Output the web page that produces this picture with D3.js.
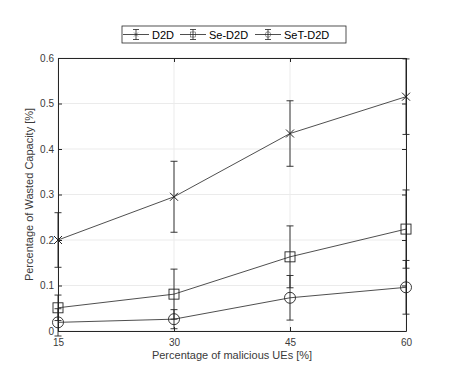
<!DOCTYPE html>
<meta charset="utf-8">
<script src="https://d3js.org/d3.v7.min.js"></script>
<body style="margin:0;background:#fff">
<div id="chart"></div>
</body>
<style>
text { font-family: "Liberation Sans", Arial, sans-serif; }
</style>
<script>
// data
var xValues = [15, 30, 45, 60];
var xTicks = [15, 30, 45, 60];
var yTicks = [0, 0.1, 0.2, 0.3, 0.4, 0.5, 0.6];

var seriesNames = ["D2D", "Se-D2D", "SeT-D2D"];
var d2d = [0.200, 0.295, 0.434, 0.515];
var d2dErr = [0.060, 0.078, 0.072, 0.083];
var seD2d = [0.051, 0.081, 0.163, 0.224];
var seD2dErr = [0.028, 0.055, 0.068, 0.086];
var setD2d = [0.019, 0.026, 0.073, 0.096];
var setD2dErr = [0.030, 0.021, 0.049, 0.059];

var margin = {top: 58, right: 43, bottom: 37, left: 58},
    W = 449, H = 368,
    width = W - margin.left - margin.right,
    height = H - margin.top - margin.bottom;

var svg = d3.select("#chart").append("svg")
    .attr("width", W).attr("height", H);
var g = svg.append("g")
    .attr("transform", "translate(" + margin.left + "," + margin.top + ")");

var x = d3.scaleLinear().domain([15, 60]).range([0, width]);
var y = d3.scaleLinear().domain([0, 0.6]).range([height, 0]);

var axisColor = "#262626";
var textColor = "#3a3a3a";

// grid
g.selectAll(".gx").data(xTicks).enter().append("line")
    .attr("x1", d => x(d)).attr("x2", d => x(d))
    .attr("y1", 0).attr("y2", height)
    .attr("stroke", "#ebebeb");
g.selectAll(".gy").data(yTicks).enter().append("line")
    .attr("x1", 0).attr("x2", width)
    .attr("y1", d => y(d)).attr("y2", d => y(d))
    .attr("stroke", "#ebebeb");

// axes (box with inward ticks on all sides)
function styleAxis(sel) {
  sel.select(".domain").attr("stroke", axisColor);
  sel.selectAll(".tick line").attr("stroke", axisColor);
  sel.selectAll(".tick text").attr("fill", textColor).style("font-size", "10px")
    .style("font-family", "Liberation Sans, Arial, sans-serif");
}
g.append("g").attr("transform", "translate(0," + height + ")")
  .call(d3.axisBottom(x).tickValues(xTicks).tickSizeInner(-4).tickSizeOuter(0).tickPadding(8))
  .call(styleAxis);
g.append("g")
  .call(d3.axisLeft(y).tickValues(yTicks).tickFormat(d3.format("~g")).tickSizeInner(-4).tickSizeOuter(0).tickPadding(4))
  .call(styleAxis);
g.append("g")
  .call(d3.axisTop(x).tickValues(xTicks).tickFormat("").tickSizeInner(-4).tickSizeOuter(0))
  .call(styleAxis);
g.append("g").attr("transform", "translate(" + width + ",0)")
  .call(d3.axisRight(y).tickValues(yTicks).tickFormat("").tickSizeInner(-4).tickSizeOuter(0))
  .call(styleAxis);

var series = [
  {name: seriesNames[0], vals: d2d, err: d2dErr, marker: "x"},
  {name: seriesNames[1], vals: seD2d, err: seD2dErr, marker: "square"},
  {name: seriesNames[2], vals: setD2d, err: setD2dErr, marker: "circle"}
];

var lineCol = "#222";
var cap = 3.5;

function drawMarker(sel, type, cx, cy) {
  if (type === "x") {
    sel.append("path")
      .attr("d", "M" + (cx - 4) + "," + (cy - 4) + "L" + (cx + 4) + "," + (cy + 4) +
                 "M" + (cx - 4) + "," + (cy + 4) + "L" + (cx + 4) + "," + (cy - 4))
      .attr("stroke", lineCol).attr("stroke-width", 1).attr("fill", "none");
  } else if (type === "square") {
    sel.append("rect").attr("x", cx - 5).attr("y", cy - 5)
      .attr("width", 10).attr("height", 10)
      .attr("stroke", lineCol).attr("stroke-width", 0.9).attr("fill", "none");
  } else {
    sel.append("circle").attr("cx", cx).attr("cy", cy).attr("r", 5.5)
      .attr("stroke", lineCol).attr("stroke-width", 0.9).attr("fill", "none");
  }
}

var line = d3.line().x(d => x(d.x)).y(d => y(d.v));

series.forEach(function(s) {
  var pts = xValues.map((xv, i) => ({x: xv, v: s.vals[i], e: s.err[i]}));
  var sg = g.append("g");
  // error bars
  pts.forEach(function(p) {
    var cx = x(p.x), y1 = y(p.v + p.e), y2 = y(p.v - p.e);
    sg.append("line").attr("x1", cx).attr("x2", cx).attr("y1", y1).attr("y2", y2)
      .attr("stroke", lineCol).attr("stroke-width", 0.9);
    [y1, y2].forEach(function(yy) {
      sg.append("line").attr("x1", cx - cap).attr("x2", cx + cap)
        .attr("y1", yy).attr("y2", yy)
        .attr("stroke", lineCol).attr("stroke-width", 0.9);
    });
  });
  sg.append("path").datum(pts).attr("d", line)
    .attr("fill", "none").attr("stroke", lineCol).attr("stroke-width", 0.8);
  pts.forEach(function(p) { drawMarker(sg, s.marker, x(p.x), y(p.v)); });
});

// axis labels
svg.append("text")
  .attr("x", margin.left + width / 2).attr("y", 359)
  .attr("text-anchor", "middle").attr("fill", textColor).style("font-size", "11px")
  .text("Percentage of malicious UEs [%]");
svg.append("text")
  .attr("transform", "translate(33," + (margin.top + height / 2) + ") rotate(-90)")
  .attr("text-anchor", "middle").attr("fill", textColor).style("font-size", "11px")
  .text("Percentage of Wasted Capacity [%]");

// legend
var leg = svg.append("g").attr("transform", "translate(122,26)");
leg.append("rect").attr("width", 224).attr("height", 17)
  .attr("fill", "#fff").attr("stroke", axisColor).attr("stroke-width", 0.8);
var legX = [1, 58, 133];
series.forEach(function(s, i) {
  var lg = leg.append("g").attr("transform", "translate(" + legX[i] + ",8.5)");
  lg.append("line").attr("x1", 0).attr("x2", 26).attr("y1", 0).attr("y2", 0)
    .attr("stroke", lineCol).attr("stroke-width", 0.8);
  // small errorbar glyph
  lg.append("line").attr("x1", 13).attr("x2", 13).attr("y1", -5).attr("y2", 5)
    .attr("stroke", lineCol).attr("stroke-width", 0.8);
  [-5, 5].forEach(function(yy) {
    lg.append("line").attr("x1", 10).attr("x2", 16).attr("y1", yy).attr("y2", yy)
      .attr("stroke", lineCol).attr("stroke-width", 0.8);
  });
  var mg = lg.append("g").attr("transform", "translate(13,0) scale(0.5)");
  drawMarker(mg, s.marker, 0, 0);
  lg.append("text").attr("x", 29).attr("y", 4).attr("fill", "#000")
    .style("font-size", "11px").text(s.name);
});
</script>
